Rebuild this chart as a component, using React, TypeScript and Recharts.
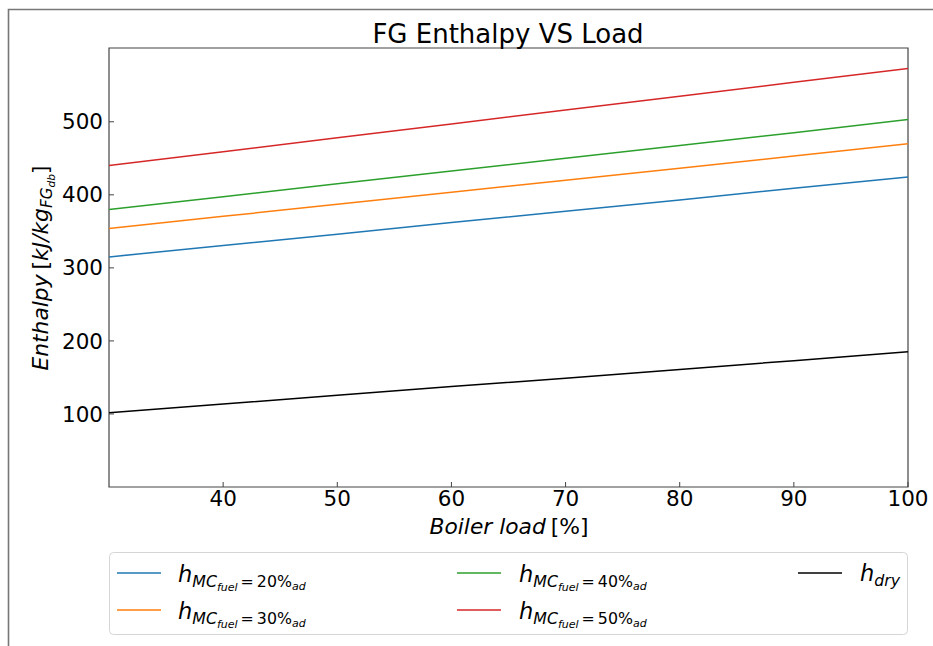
import React from 'react';
import { LineChart, Line, XAxis, YAxis, ReferenceArea } from 'recharts';

const loads = [30, 40, 50, 60, 70, 80, 90, 100];
const hMC20 = [315, 330.5, 346, 362, 377.5, 393, 409, 424.5];
const hMC30 = [354, 370.5, 387, 403.5, 420, 436.5, 453, 470];
const hMC40 = [380, 397.5, 415, 432.5, 450, 467.5, 485, 503];
const hMC50 = [440, 459, 478, 497, 516, 535, 554, 573];
const hDry = [101.5, 113.5, 125.5, 137.5, 149, 161, 173, 185];

const xTicks = [40, 50, 60, 70, 80, 90, 100];
const yTicks = [100, 200, 300, 400, 500];

const title = 'FG Enthalpy VS Load';

const series = [
  { key: 'mc20', color: '#1f77b4', pct: '20%' },
  { key: 'mc30', color: '#ff7f0e', pct: '30%' },
  { key: 'mc40', color: '#2ca02c', pct: '40%' },
  { key: 'mc50', color: '#d62728', pct: '50%' },
  { key: 'dry', color: '#000000', pct: '' },
];

const data = loads.map((load, i) => ({
  load,
  mc20: hMC20[i],
  mc30: hMC30[i],
  mc40: hMC40[i],
  mc50: hMC50[i],
  dry: hDry[i],
}));

const FONT = '"DejaVu Sans", sans-serif';
const AXIS = '#444';

// legend placement: [lineX1, textX, lineY, baselineY]
const legendSlots: Record<string, [number, number, number, number]> = {
  mc20: [117, 178, 573, 582],
  mc30: [117, 178, 610, 619],
  mc40: [457, 519, 573, 582],
  mc50: [457, 519, 610, 619],
  dry: [798, 860, 573, 581],
};

function LegendLabel({ pct, x, y }: { pct: string; x: number; y: number }) {
  if (!pct) {
    return (
      <text x={x} y={y} fontFamily={FONT} fill="#000">
        <tspan fontSize={22.5} fontStyle="italic">h</tspan>
        <tspan fontSize={15.8} fontStyle="italic" dy={5}>dry</tspan>
      </text>
    );
  }
  return (
    <text x={x} y={y} fontFamily={FONT} fill="#000">
      <tspan fontSize={22.5} fontStyle="italic">h</tspan>
      <tspan fontSize={15.8} fontStyle="italic" dy={5}>MC</tspan>
      <tspan fontSize={11} fontStyle="italic" dy={4}>fuel</tspan>
      <tspan fontSize={15.8} dy={-4} dx={3}>=</tspan>
      <tspan fontSize={15.8} dx={3}>{pct}</tspan>
      <tspan fontSize={11} fontStyle="italic" dy={3}>ad</tspan>
    </text>
  );
}

export default function App() {
  return (
    <div style={{ position: 'absolute', left: 0, top: 0, width: 933, height: 646, overflow: 'hidden', background: '#fff' }}>
      <LineChart
        width={933}
        height={646}
        data={data}
        margin={{ top: 48, right: 25, bottom: 119, left: 49 }}
      >
        <XAxis
          dataKey="load"
          type="number"
          domain={[30, 100]}
          ticks={xTicks}
          height={40}
          axisLine={false}
          tickSize={-5}
          tickMargin={9}
          tickLine={{ stroke: AXIS }}
          tick={{ fontSize: 21.5, fontFamily: FONT, fill: '#000' }}
          allowDataOverflow
        />
        <YAxis
          type="number"
          domain={[0, 601]}
          ticks={yTicks}
          width={60}
          axisLine={false}
          tickSize={-5}
          tickMargin={11}
          tickLine={{ stroke: AXIS }}
          tick={{ fontSize: 21.5, fontFamily: FONT, fill: '#000' }}
          allowDataOverflow
        />
        <ReferenceArea x1={30} x2={100} y1={0} y2={601} fill="none" stroke={AXIS} strokeWidth={1.2} />
        {series.map((s) => (
          <Line
            key={s.key}
            dataKey={s.key}
            type="linear"
            stroke={s.color}
            strokeWidth={1.5}
            dot={false}
            activeDot={false}
            isAnimationActive={false}
          />
        ))}
      </LineChart>
      <svg
        width={933}
        height={646}
        style={{ position: 'absolute', left: 0, top: 0, pointerEvents: 'none' }}
      >
        <path d="M8.5 1000 V9.5 H1000" fill="none" stroke="#777" strokeWidth={1.6} />
        <text x={508} y={43} textAnchor="middle" fontFamily={FONT} fontSize={26} fill="#000">
          {title}
        </text>
        <text x={509} y={534} textAnchor="middle" fontFamily={FONT} fontSize={21.8} fill="#000">
          <tspan fontStyle="italic">Boiler load</tspan>
          <tspan dx={5}>[%]</tspan>
        </text>
        <text
          transform="translate(48,268) rotate(-90)"
          x={0}
          y={0}
          textAnchor="middle"
          fontFamily={FONT}
          fontSize={21.8}
          fill="#000"
        >
          <tspan fontStyle="italic">Enthalpy</tspan>
          <tspan dx={5}>[</tspan>
          <tspan fontStyle="italic">kJ/kg</tspan>
          <tspan fontStyle="italic" fontSize={15.2} dy={4}>FG</tspan>
          <tspan fontStyle="italic" fontSize={10.7} dy={3}>db</tspan>
          <tspan dy={-7}>]</tspan>
        </text>
        <rect x={109.5} y={552.5} width={798} height={82} rx={4} fill="#fff" stroke="#d5d5d5" strokeWidth={1} />
        {series.map((s) => {
          const [lx, tx, ly, by] = legendSlots[s.key];
          return (
            <g key={s.key}>
              <line x1={lx} x2={lx + 44} y1={ly} y2={ly} stroke={s.color} strokeWidth={1.5} />
              <LegendLabel pct={s.pct} x={tx} y={by} />
            </g>
          );
        })}
      </svg>
    </div>
  );
}
